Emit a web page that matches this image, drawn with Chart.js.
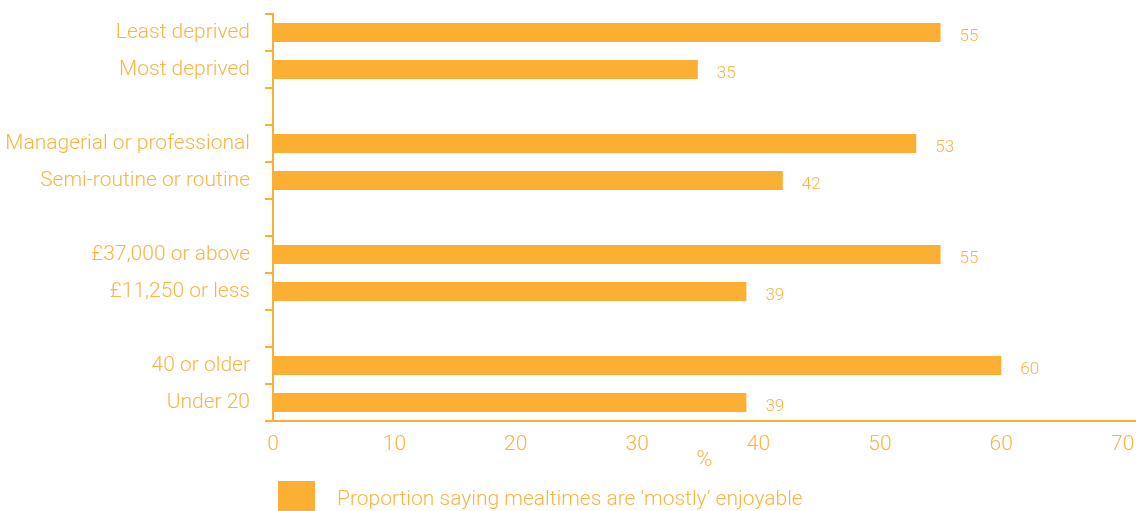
<!DOCTYPE html>
<html>
<head>
<meta charset="utf-8">
<script src="https://cdn.jsdelivr.net/npm/chart.js@4"></script>
<style>
  html, body { margin: 0; padding: 0; background: #fff; }
  #wrap { width: 1136px; height: 511px; }
</style>
</head>
<body>
<div id="wrap"><canvas id="chart"></canvas></div>
<script>
// Empty labels leave a gap between the groups
const categories = [
  'Least deprived', 'Most deprived', '',
  'Managerial or professional', 'Semi-routine or routine', '',
  '£37,000 or above', '£11,250 or less', '',
  '40 or older', 'Under 20'
];
const values = [55, 35, null, 53, 42, null, 55, 39, null, 60, 39];
const xTicks = [0, 10, 20, 30, 40, 50, 60, 70];
const seriesName = 'Proportion saying mealtimes are \u2018mostly\u2019 enjoyable';

const ORANGE = '#FBB034';
const TEXT = '#F9B443';
const FONT = 'Roboto, "Liberation Sans", sans-serif';

Chart.defaults.font.family = FONT;
Chart.defaults.font.weight = '300';
Chart.defaults.color = TEXT;

// value printed just past the end of each bar
const valueLabels = {
  id: 'valueLabels',
  afterDatasetsDraw(chart) {
    const { ctx } = chart;
    const meta = chart.getDatasetMeta(0);
    ctx.save();
    ctx.font = '300 17px ' + FONT;
    ctx.fillStyle = TEXT;
    ctx.textAlign = 'left';
    ctx.textBaseline = 'middle';
    meta.data.forEach((bar, i) => {
      if (values[i] == null) return;
      ctx.fillText(String(values[i]), bar.x + 19, bar.y + 4);
    });
    ctx.restore();
  }
};

// single swatch legend under the x axis title
const swatchLegend = {
  id: 'swatchLegend',
  afterDraw(chart) {
    const { ctx, chartArea } = chart;
    const x = chartArea.left + 5;
    const y = 481;
    ctx.save();
    ctx.fillStyle = ORANGE;
    ctx.fillRect(x, y, 37, 38);
    ctx.font = '300 21px ' + FONT;
    ctx.fillStyle = TEXT;
    ctx.textAlign = 'left';
    ctx.textBaseline = 'middle';
    ctx.fillText(seriesName, x + 59, y + 19);
    ctx.restore();
  }
};

new Chart(document.getElementById('chart'), {
  type: 'bar',
  data: {
    labels: categories,
    datasets: [{
      label: seriesName,
      data: values,
      backgroundColor: ORANGE,
      borderWidth: 0,
      barPercentage: 0.51,
      categoryPercentage: 1,
    }],
  },
  options: {
    indexAxis: 'y',
    responsive: true,
    maintainAspectRatio: false,
    animation: false,
    layout: { padding: { top: 14, right: 0, left: 0, bottom: 0 } },
    plugins: {
      legend: { display: false },
      tooltip: { enabled: false },
    },
    scales: {
      x: {
        min: 0,
        max: 71.1,
        afterBuildTicks(scale) {
          scale.ticks = xTicks.map(v => ({ value: v }));
        },
        afterFit(scale) {
          scale.height = 90;
          scale.paddingLeft = 0;
          scale.paddingRight = 0;
        },
        ticks: { color: TEXT, font: { size: 21 }, padding: 3 },
        grid: { display: false },
        border: { display: true, color: ORANGE, width: 2 },
        title: {
          display: true,
          text: '%',
          color: TEXT,
          font: { size: 22 },
          padding: { top: 0, bottom: 37 },
        },
      },
      y: {
        afterFit(scale) {
          scale.width = 273;
          scale.paddingTop = 0;
          scale.paddingBottom = 0;
        },
        ticks: { color: TEXT, font: { size: 21 }, padding: 15, autoSkip: false },
        grid: {
          display: true,
          drawOnChartArea: false,
          drawTicks: true,
          tickLength: 8,
          color: ORANGE,
          lineWidth: 2,
        },
        border: { display: true, color: ORANGE, width: 2 },
      },
    },
  },
  plugins: [valueLabels, swatchLegend],
});
</script>
</body>
</html>
